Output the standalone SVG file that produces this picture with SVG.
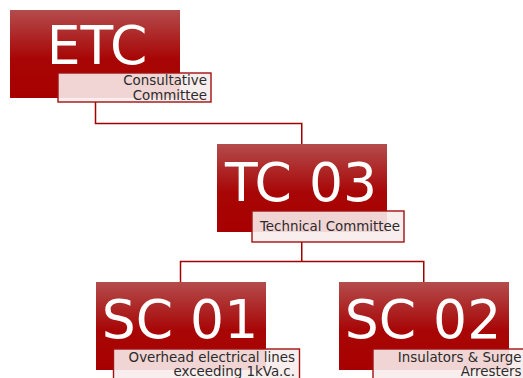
<svg xmlns="http://www.w3.org/2000/svg" width="523" height="378" viewBox="0 0 523 378">
  <defs>
    <linearGradient id="red" x1="0" y1="0" x2="0" y2="1">
      <stop offset="0" stop-color="#b44c4c"/>
      <stop offset="0.55" stop-color="#a80606"/>
      <stop offset="1" stop-color="#a80000"/>
    </linearGradient>
  </defs>
  <style>
    .box { fill: url(#red); }
    .title { font-family: "DejaVu Sans", Verdana, sans-serif; font-size: 53.5px; fill: #ffffff; text-anchor: middle; }
    .lbl { fill: #f8ecec; fill-opacity: 0.9; stroke: #a31010; stroke-width: 1.4; }
    .lt { font-family: "DejaVu Sans", Verdana, sans-serif; font-size: 13.4px; fill: #2b2b2b; text-anchor: end; }
    .conn { fill: none; stroke: #a00000; stroke-width: 1.5; }
  </style>
  <g id="connectors">
    <path class="conn" d="M95.5 102 V123.5 H301.75 V144"/>
    <path class="conn" d="M301.75 242 V261.5"/>
    <path class="conn" d="M180.5 282 V261.5 H423.75 V282"/>
  </g>
  <g id="etc">
    <rect class="box" x="10" y="10" width="170" height="88"/>
    <text class="title" x="97" y="64">ETC</text>
    <rect class="lbl" x="58" y="73" width="153" height="29"/>
    <text class="lt" x="207" y="84.5">Consultative</text>
    <text class="lt" x="207" y="99.5">Committee</text>
  </g>
  <g id="tc03">
    <rect class="box" x="217" y="144" width="170" height="88"/>
    <text class="title" x="301" y="201">TC 03</text>
    <rect class="lbl" x="252" y="211" width="152" height="31"/>
    <text class="lt" x="400" y="231">Technical Committee</text>
  </g>
  <g id="sc01">
    <rect class="box" x="96" y="282" width="170" height="88"/>
    <text class="title" x="180" y="338">SC 01</text>
    <rect class="lbl" x="113.5" y="349" width="186" height="40"/>
    <text class="lt" x="295" y="362">Overhead electrical lines</text>
    <text class="lt" x="295" y="376">exceeding 1kVa.c.</text>
  </g>
  <g id="sc02">
    <rect class="box" x="339" y="282" width="170" height="88"/>
    <text class="title" x="423" y="338">SC 02</text>
    <rect class="lbl" x="373" y="349" width="186" height="40"/>
    <text class="lt" x="521.5" y="362">Insulators &amp; Surge</text>
    <text class="lt" x="521.5" y="376">Arresters</text>
  </g>
</svg>
